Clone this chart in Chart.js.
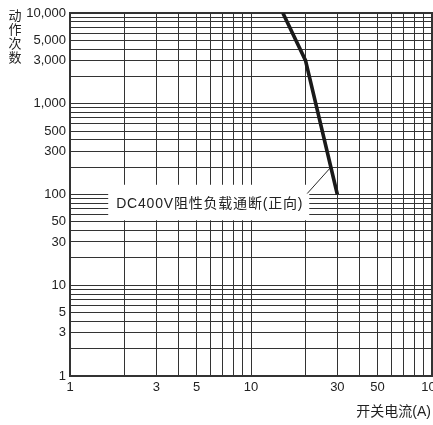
<!DOCTYPE html>
<html><head><meta charset="utf-8">
<script src="https://cdn.jsdelivr.net/npm/chart.js@4/dist/chart.umd.min.js"></script>
<style>html,body{margin:0;padding:0;background:#fff;}#wrap{width:433px;height:425px;position:relative}</style>
</head><body><div id="wrap"><canvas id="c" width="433" height="425"></canvas></div>
<script>
// Switching current (A) vs. number of operations, DC400V resistive load
const currentA = [15, 20, 30];
const operations = [10000, 3000, 100];
const xGridValues = [1,2,3,4,5,6,7,8,9,10,20,30,40,50,60,70,80,90,100];
const xTickLabels = [1,3,5,10,30,50,100];
const yGridValues = [1,2,3,4,5,6,7,8,9,10,20,30,40,50,60,70,80,90,
  100,200,300,400,500,600,700,800,900,1000,2000,3000,4000,5000,6000,7000,8000,9000,10000];
const yTickLabels = [1,3,5,10,30,50,100,300,500,1000,3000,5000,10000];
const seriesLabel = 'DC400V阻性负载通断(正向)';
const yTitleChars = ['动','作','次','数'];
const xTitle = '开关电流(A)';

const INK = '#222';
const GRID = '#333';
const LATIN = '"Liberation Sans", Arial, sans-serif';
const CJK = '"Liberation Sans", "Noto Sans CJK SC", sans-serif';

// log-space interpolation of the curve: current at a given operation count
function currentAt(ops) {
  for (let i = 0; i < operations.length - 1; i++) {
    const a = operations[i], b = operations[i + 1];
    if ((ops <= a && ops >= b) || (ops >= a && ops <= b)) {
      const t = (Math.log10(ops) - Math.log10(a)) / (Math.log10(b) - Math.log10(a));
      return Math.pow(10, Math.log10(currentA[i]) + t * (Math.log10(currentA[i + 1]) - Math.log10(currentA[i])));
    }
  }
  return currentA[currentA.length - 1];
}

const decorations = {
  id: 'decorations',
  beforeDatasetsDraw(chart) {
    const { ctx, chartArea: ca, scales: { x, y } } = chart;
    ctx.save();
    // frame: top and right edges
    ctx.strokeStyle = GRID;
    ctx.lineWidth = 2;
    ctx.beginPath();
    ctx.moveTo(ca.left, ca.top); ctx.lineTo(ca.right, ca.top); ctx.lineTo(ca.right, ca.bottom);
    ctx.stroke();

    // series label on a white plate
    ctx.font = '14px ' + CJK;
    ctx.letterSpacing = '0.8px';
    const tx = x.getPixelForValue(1.8);
    const ty = y.getPixelForValue(78);
    const tw = ctx.measureText(seriesLabel).width;
    const boxTop = y.getPixelForValue(128);
    const boxBottom = y.getPixelForValue(52);
    ctx.fillStyle = '#fff';
    ctx.fillRect(tx - 8, boxTop, tw + 14, boxBottom - boxTop);
    ctx.fillStyle = INK;
    ctx.textAlign = 'left';
    ctx.textBaseline = 'middle';
    ctx.fillText(seriesLabel, tx, ty);
    ctx.letterSpacing = '0px';

    // leader from the label to the curve
    const lx0 = tx + tw + 4;
    const ly0 = y.getPixelForValue(100) - 1;
    const lx1 = x.getPixelForValue(currentAt(200));
    const ly1 = y.getPixelForValue(200);
    ctx.strokeStyle = '#111';
    ctx.lineWidth = 0.9;
    ctx.beginPath(); ctx.moveTo(lx0, ly0); ctx.lineTo(lx1, ly1); ctx.stroke();
    ctx.restore();
  },
  afterDraw(chart) {
    const { ctx } = chart;
    ctx.save();
    ctx.fillStyle = INK;
    ctx.textAlign = 'center';
    ctx.textBaseline = 'middle';
    ctx.font = '13px "Noto Sans CJK SC", sans-serif';
    const rows = [15, 29, 43, 57];
    yTitleChars.forEach((ch, i) => ctx.fillText(ch, 15, rows[i]));
    ctx.textAlign = 'right';
    ctx.font = '14px ' + CJK;
    ctx.fillText(xTitle, 431, 412);
    ctx.restore();
  }
};

new Chart(document.getElementById('c'), {
  type: 'line',
  data: {
    datasets: [{
      label: seriesLabel,
      data: currentA.map((v, i) => ({ x: v, y: operations[i] })),
      borderColor: '#1a1a1a',
      borderWidth: 3.6,
      pointRadius: 0,
      tension: 0,
      fill: false
    }]
  },
  options: {
    responsive: false,
    animation: false,
    devicePixelRatio: 1,
    layout: { padding: { top: 13, right: 1, left: 0, bottom: 0 } },
    plugins: { legend: { display: false }, tooltip: { enabled: false } },
    scales: {
      x: {
        type: 'logarithmic', min: 1, max: 100,
        afterBuildTicks: s => { s.ticks = xGridValues.map(v => ({ value: v })); },
        afterFit: s => { s.height = 49; s.paddingLeft = 0; s.paddingRight = 0; },
        ticks: {
          autoSkip: false, maxRotation: 0, minRotation: 0, padding: 4, color: INK,
          font: { family: LATIN, size: 13 },
          callback: v => xTickLabels.includes(v) ? String(v) : ''
        },
        grid: { color: GRID, lineWidth: 1, drawTicks: false },
        border: { display: true, color: GRID, width: 2 }
      },
      y: {
        type: 'logarithmic', min: 1, max: 10000,
        afterBuildTicks: s => { s.ticks = yGridValues.map(v => ({ value: v })); },
        afterFit: s => { s.width = 70; s.paddingTop = 0; s.paddingBottom = 0; },
        ticks: {
          autoSkip: false, padding: 4, color: INK,
          font: { family: LATIN, size: 13 },
          callback: v => yTickLabels.includes(v) ? v.toLocaleString('en-US') : ''
        },
        grid: { color: GRID, lineWidth: 1, drawTicks: false },
        border: { display: true, color: GRID, width: 2 }
      }
    }
  },
  plugins: [decorations]
});
</script></body></html>
